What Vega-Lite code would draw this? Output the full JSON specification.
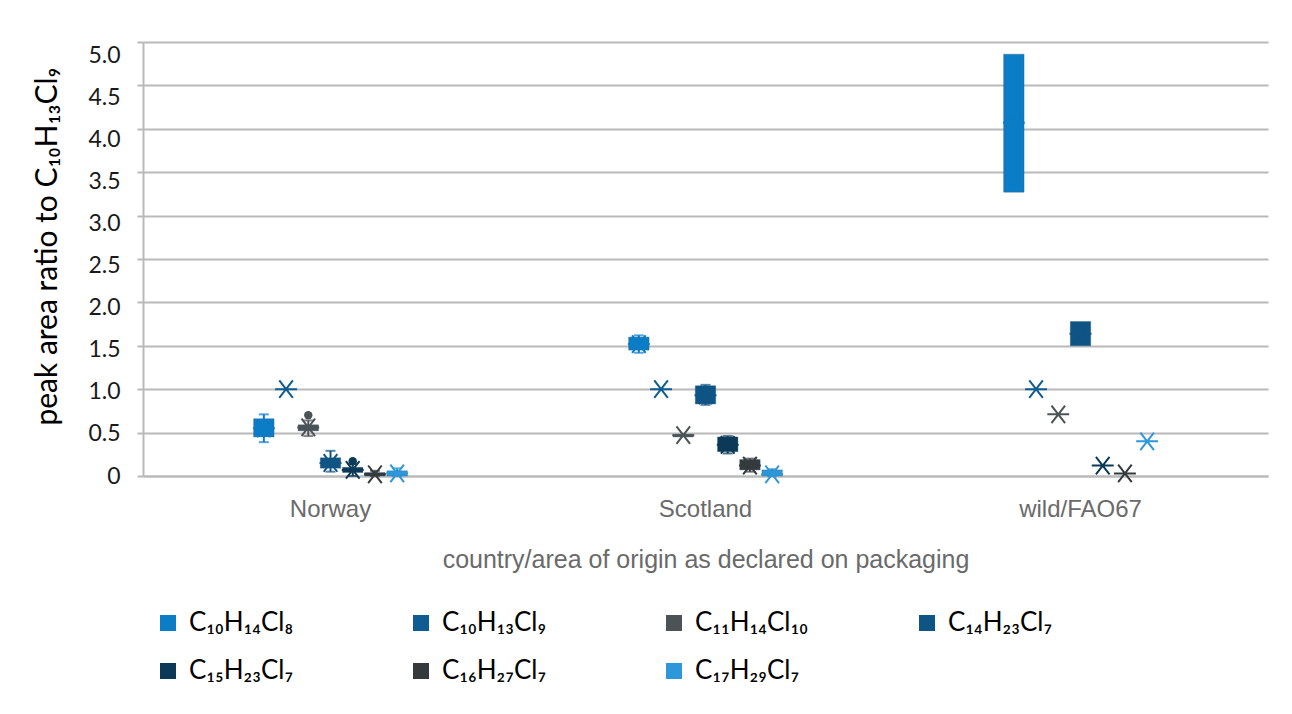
{
  "$schema": "https://vega.github.io/schema/vega-lite/v6.json",
  "autosize": "none",
  "width": 1125,
  "height": 434,
  "padding": {"left": 143, "top": 42, "right": 24, "bottom": 238},
  "background": "white",
  "data": {
    "values": [
      {"origin": "Norway", "compound": "C₁₀H₁₄Cl₈", "lo": 0.39, "q1": 0.45, "q3": 0.66, "hi": 0.71, "mean": 0.55, "out": null},
      {"origin": "Norway", "compound": "C₁₀H₁₃Cl₉", "lo": null, "q1": null, "q3": null, "hi": null, "mean": 1.0, "out": null},
      {"origin": "Norway", "compound": "C₁₁H₁₄Cl₁₀", "lo": 0.46, "q1": 0.52, "q3": 0.59, "hi": 0.64, "mean": 0.56, "out": 0.7},
      {"origin": "Norway", "compound": "C₁₄H₂₃Cl₇", "lo": 0.05, "q1": 0.09, "q3": 0.21, "hi": 0.29, "mean": 0.15, "out": null},
      {"origin": "Norway", "compound": "C₁₅H₂₃Cl₇", "lo": 0.0, "q1": 0.04, "q3": 0.1, "hi": 0.14, "mean": 0.07, "out": 0.17},
      {"origin": "Norway", "compound": "C₁₆H₂₇Cl₇", "lo": 0.0, "q1": 0.0, "q3": 0.04, "hi": 0.06, "mean": 0.02, "out": null},
      {"origin": "Norway", "compound": "C₁₇H₂₉Cl₇", "lo": 0.0, "q1": 0.0, "q3": 0.06, "hi": 0.09, "mean": 0.03, "out": null},
      {"origin": "Scotland", "compound": "C₁₀H₁₄Cl₈", "lo": 1.42, "q1": 1.45, "q3": 1.6, "hi": 1.62, "mean": 1.52, "out": null},
      {"origin": "Scotland", "compound": "C₁₀H₁₃Cl₉", "lo": null, "q1": null, "q3": null, "hi": null, "mean": 1.0, "out": null},
      {"origin": "Scotland", "compound": "C₁₁H₁₄Cl₁₀", "lo": null, "q1": 0.45, "q3": 0.48, "hi": null, "mean": 0.47, "out": null},
      {"origin": "Scotland", "compound": "C₁₄H₂₃Cl₇", "lo": 0.82, "q1": 0.83, "q3": 1.04, "hi": 1.05, "mean": 0.93, "out": null},
      {"origin": "Scotland", "compound": "C₁₅H₂₃Cl₇", "lo": 0.26, "q1": 0.28, "q3": 0.45, "hi": 0.46, "mean": 0.36, "out": null},
      {"origin": "Scotland", "compound": "C₁₆H₂₇Cl₇", "lo": 0.05, "q1": 0.07, "q3": 0.19, "hi": 0.2, "mean": 0.12, "out": null},
      {"origin": "Scotland", "compound": "C₁₇H₂₉Cl₇", "lo": 0.0, "q1": 0.0, "q3": 0.07, "hi": 0.08, "mean": 0.02, "out": null},
      {"origin": "wild/FAO67", "compound": "C₁₀H₁₄Cl₈", "lo": null, "q1": 3.27, "q3": 4.86, "hi": null, "mean": 4.07, "out": null},
      {"origin": "wild/FAO67", "compound": "C₁₀H₁₃Cl₉", "lo": null, "q1": null, "q3": null, "hi": null, "mean": 1.0, "out": null},
      {"origin": "wild/FAO67", "compound": "C₁₁H₁₄Cl₁₀", "lo": null, "q1": null, "q3": null, "hi": null, "mean": 0.71, "out": null},
      {"origin": "wild/FAO67", "compound": "C₁₄H₂₃Cl₇", "lo": null, "q1": 1.5, "q3": 1.78, "hi": null, "mean": 1.64, "out": null},
      {"origin": "wild/FAO67", "compound": "C₁₅H₂₃Cl₇", "lo": null, "q1": null, "q3": null, "hi": null, "mean": 0.12, "out": null},
      {"origin": "wild/FAO67", "compound": "C₁₆H₂₇Cl₇", "lo": null, "q1": null, "q3": null, "hi": null, "mean": 0.03, "out": null},
      {"origin": "wild/FAO67", "compound": "C₁₇H₂₉Cl₇", "lo": null, "q1": null, "q3": null, "hi": null, "mean": 0.4, "out": null}
    ]
  },
  "encoding": {
    "x": {
      "field": "origin",
      "type": "nominal",
      "sort": null,
      "scale": {"paddingInner": 0.59, "paddingOuter": 0.295},
      "axis": {
        "title": "country/area of origin as declared on packaging",
        "labelAngle": 0,
        "ticks": false,
        "grid": false,
        "domainColor": "#b9b9b9",
        "domainWidth": 2,
        "labelFont": "Liberation Sans",
        "labelFontSize": 24,
        "labelColor": "#6a6a6a",
        "labelPadding": 21,
        "titleFont": "Liberation Sans",
        "titleFontSize": 25,
        "titleFontWeight": "normal",
        "titleColor": "#6a6a6a",
        "titlePadding": 26
      }
    },
    "xOffset": {
      "field": "compound",
      "type": "nominal",
      "scale": {
        "domain": ["C₁₀H₁₄Cl₈", "C₁₀H₁₃Cl₉", "C₁₁H₁₄Cl₁₀", "C₁₄H₂₃Cl₇", "C₁₅H₂₃Cl₇", "C₁₆H₂₇Cl₇", "C₁₇H₂₉Cl₇"],
        "paddingInner": 0.08
      }
    },
    "color": {
      "field": "compound",
      "type": "nominal",
      "scale": {
        "domain": ["C₁₀H₁₄Cl₈", "C₁₀H₁₃Cl₉", "C₁₁H₁₄Cl₁₀", "C₁₄H₂₃Cl₇", "C₁₅H₂₃Cl₇", "C₁₆H₂₇Cl₇", "C₁₇H₂₉Cl₇"],
        "range": ["#0b7cc6", "#0f5c92", "#4b5357", "#0e5484", "#0b3957", "#353a3d", "#2d97d9"]
      },
      "legend": {
        "title": null,
        "orient": "none",
        "legendX": 12,
        "legendY": 568,
        "direction": "horizontal",
        "columns": 4,
        "gridAlign": "all",
        "columnPadding": 106,
        "rowPadding": 22,
        "symbolType": "square",
        "symbolSize": 256,
        "symbolStrokeWidth": 0,
        "symbolOpacity": 1,
        "labelFont": "Lato",
        "labelFontSize": 26,
        "labelColor": "#000000",
        "labelOffset": 8,
        "labelLimit": 300
      }
    }
  },
  "layer": [
    {
      "mark": {"type": "rule", "strokeWidth": 2},
      "encoding": {
        "y": {
          "field": "lo",
          "type": "quantitative",
          "scale": {"domain": [0, 5], "nice": false},
          "axis": {
            "title": "peak area ratio to C₁₀H₁₃Cl₉",
            "grid": true,
            "values": [0, 0.5, 1, 1.5, 2, 2.5, 3, 3.5, 4, 4.5, 5],
            "labelExpr": "datum.value == 0 ? '0' : format(datum.value, '.1f')",
            "labelOffset": {"expr": "datum.value * 2.6"},
            "labelFont": "Lato",
            "labelFontSize": 23,
            "labelColor": "#1a1a1a",
            "labelPadding": 17,
            "tickSize": 6,
            "tickColor": "#b9b9b9",
            "tickWidth": 2,
            "domainColor": "#b9b9b9",
            "domainWidth": 2,
            "gridColor": "#b9b9b9",
            "gridWidth": 2,
            "titleFont": "Lato",
            "titleFontSize": 30,
            "titleFontWeight": "normal",
            "titleColor": "#000000",
            "titleAngle": -90,
            "titleBaseline": "middle",
            "titleAlign": "center",
            "titleX": -96,
            "titleY": 204
          }
        },
        "y2": {"field": "hi"}
      }
    },
    {
      "mark": {"type": "tick", "size": 10, "thickness": 2},
      "encoding": {"y": {"field": "lo", "type": "quantitative"}}
    },
    {
      "mark": {"type": "tick", "size": 10, "thickness": 2},
      "encoding": {"y": {"field": "hi", "type": "quantitative"}}
    },
    {
      "mark": {"type": "bar", "strokeWidth": 1, "opacity": 1},
      "encoding": {
        "y": {"field": "q1", "type": "quantitative"},
        "y2": {"field": "q3"},
        "stroke": {"value": "#2b5f85"},
        "strokeOpacity": {"value": 0.35}
      }
    },
    {
      "mark": {"type": "point", "filled": false, "opacity": 1, "strokeWidth": 2,
               "shape": "M-1,0L1,0M-0.62,-0.8L0.62,0.8M-0.62,0.8L0.62,-0.8", "size": 480},
      "encoding": {"y": {"field": "mean", "type": "quantitative"}}
    },
    {
      "mark": {"type": "circle", "opacity": 1, "size": 70},
      "encoding": {"y": {"field": "out", "type": "quantitative"}}
    }
  ],
  "config": {
    "view": {"stroke": null}
  }
}
